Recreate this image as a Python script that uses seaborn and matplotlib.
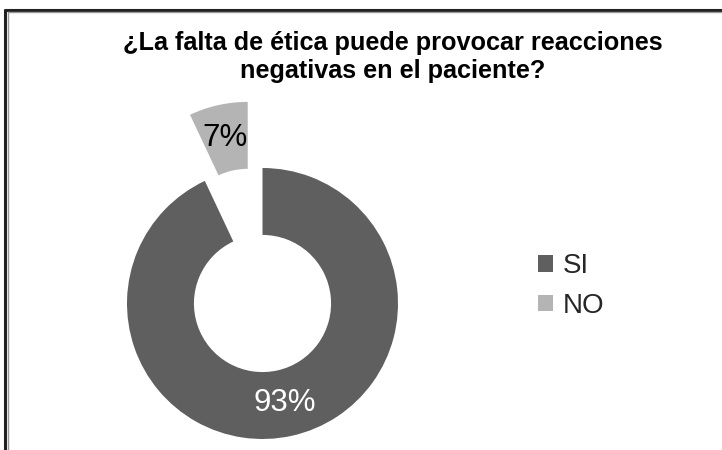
import matplotlib
matplotlib.use("Agg")
import matplotlib.pyplot as plt
from matplotlib.lines import Line2D
import seaborn as sns

# Survey answers
categories = ["SI", "NO"]
percentages = [93, 7]
title_text = "¿La falta de ética puede provocar reacciones\nnegativas en el paciente?"

sns.set_theme(style="white")
plt.rcParams["font.family"] = ["Liberation Sans", "DejaVu Sans"]

colors = sns.color_palette(["#5f5f5f", "#b4b4b4"])

W, H, DPI = 722, 450, 100
fig = plt.figure(figsize=(W / DPI, H / DPI), dpi=DPI)
fig.patch.set_facecolor("white")

# Axes spanning the whole figure; one data unit equals the ring's outer radius
R_PX = 135.5
CX, CY = 262.5, 303.5  # ring centre in pixels (y from top)
ax = fig.add_axes([0, 0, 1, 1])

wedges, texts, autotexts = ax.pie(
    percentages,
    labels=None,
    colors=colors,
    startangle=90,
    counterclock=False,
    explode=[0, 0.5],
    radius=1.0,
    wedgeprops=dict(width=0.494, edgecolor="none", linewidth=0),
    autopct=lambda p: f"{p:.0f}%",
    pctdistance=0.753,
    textprops=dict(fontsize=22.5),
)
autotexts[0].set_color("white")
autotexts[1].set_color("black")

ax.set_xlim(-CX / R_PX, (W - CX) / R_PX)
ax.set_ylim(-(H - CY) / R_PX, CY / R_PX)
ax.set_aspect("auto")
ax.axis("off")

# Title
fig.text(393 / W, 1 - 78 / H, title_text, ha="center", va="baseline",
         fontsize=18.2, fontweight="bold", color="black", linespacing=1.22)

# Legend
fig.legend(wedges, categories, loc="center left",
           bbox_to_anchor=(538 / W, 1 - 286 / H),
           frameon=False, fontsize=20, handlelength=0.54, handleheight=0.54,
           handletextpad=0.36, labelspacing=0.5, borderpad=0, borderaxespad=0)

# Frame edges along the top and left
fig.add_artist(Line2D([5 / W, 1], [1 - 10 / H, 1 - 10 / H], color="#222222",
                      linewidth=2.2, transform=fig.transFigure))
fig.add_artist(Line2D([5 / W, 5 / W], [0, 1 - 10 / H], color="#222222",
                      linewidth=2.2, transform=fig.transFigure))
fig.add_artist(Line2D([7.5 / W, 1], [1 - 12 / H, 1 - 12 / H], color="#9a9a9a",
                      linewidth=1.0, transform=fig.transFigure))
fig.add_artist(Line2D([7.5 / W, 7.5 / W], [0, 1 - 12 / H], color="#9a9a9a",
                      linewidth=1.0, transform=fig.transFigure))

fig.savefig("out.png", dpi=DPI, facecolor="white")
